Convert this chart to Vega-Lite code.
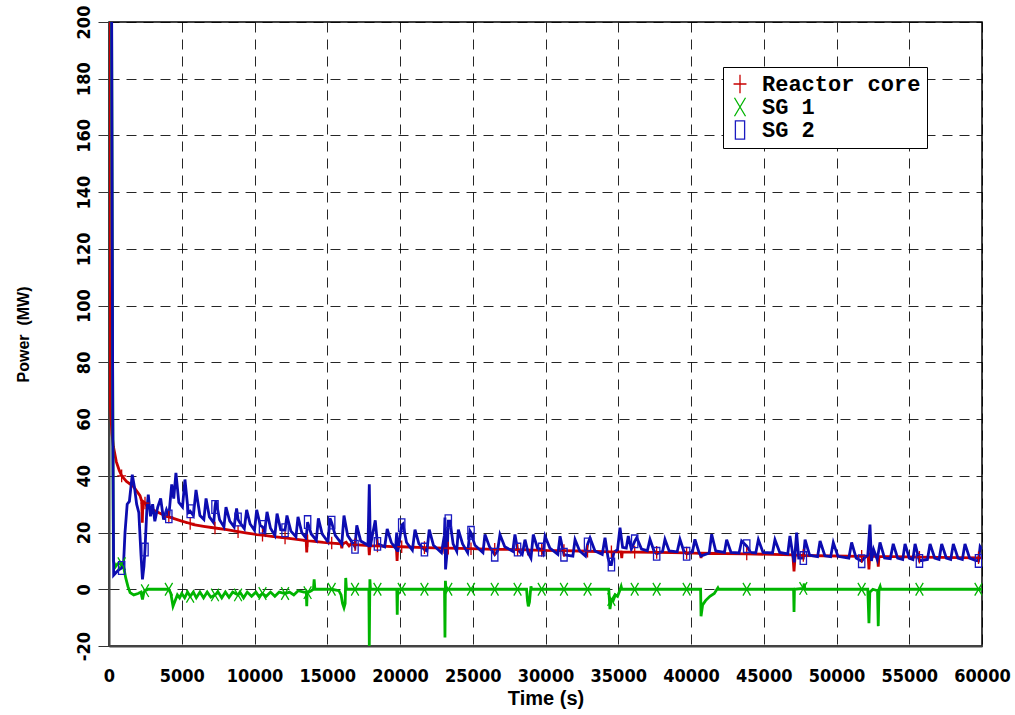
{
  "$schema": "https://vega.github.io/schema/vega-lite/v6.json",
  "width": 873,
  "height": 624,
  "autosize": {"type": "none"},
  "padding": {"left": 109, "top": 22, "right": 33, "bottom": 69},
  "background": "white",
  "config": {
    "view": {"stroke": "black", "strokeWidth": 1.5},
    "axis": {
      "grid": true,
      "gridColor": "black",
      "gridOpacity": 0.85,
      "gridDash": [10, 7],
      "gridWidth": 1,
      "domainColor": "#444",
      "domainWidth": 2,
      "labelFont": "Liberation Sans Narrow, DejaVu Sans Condensed, Arial Narrow, sans-serif",
      "labelFontSize": 18,
      "labelFontWeight": "bold",
      "labelColor": "black",
      "titleFont": "Liberation Sans, Arial, sans-serif",
      "titleFontWeight": "bold",
      "titleColor": "black",
      "titleLimit": 400
    },
    "legend": {
      "orient": "none",
      "legendX": 614,
      "legendY": 45,
      "strokeColor": "black",
      "fillColor": "white",
      "padding": 6,
      "cornerRadius": 0,
      "labelFont": "Liberation Mono, Courier New, monospace",
      "labelFontSize": 22,
      "labelFontWeight": "bold",
      "labelColor": "black",
      "labelOffset": 11,
      "rowPadding": -5,
      "symbolSize": 340,
      "symbolStrokeWidth": 1.3
    }
  },
  "data": {
    "values": [
      {"s":"Reactor core","t":0,"p":250},{"s":"Reactor core","t":30,"p":110},{"s":"Reactor core","t":100,"p":64},{"s":"Reactor core","t":200,"p":55},{"s":"Reactor core","t":300,"p":50.4},{"s":"Reactor core","t":500,"p":45},{"s":"Reactor core","t":700,"p":42},{"s":"Reactor core","t":870,"p":40,"m":1},{"s":"Reactor core","t":1200,"p":38},{"s":"Reactor core","t":1670,"p":36.3},{"s":"Reactor core","t":2130,"p":33},{"s":"Reactor core","t":2250,"p":31},{"s":"Reactor core","t":2290,"p":23.5},{"s":"Reactor core","t":2330,"p":31},{"s":"Reactor core","t":2474,"p":30.4,"m":1},{"s":"Reactor core","t":2600,"p":29.4},{"s":"Reactor core","t":3000,"p":28},{"s":"Reactor core","t":3500,"p":26.8},{"s":"Reactor core","t":3960,"p":25.7},{"s":"Reactor core","t":4110,"p":25.5,"m":1},{"s":"Reactor core","t":5000,"p":24},{"s":"Reactor core","t":5580,"p":23.2,"m":1},{"s":"Reactor core","t":5800,"p":22.8},{"s":"Reactor core","t":6500,"p":22.2},{"s":"Reactor core","t":7285,"p":21.6,"m":1},{"s":"Reactor core","t":8090,"p":21},{"s":"Reactor core","t":8870,"p":20.3,"m":1},{"s":"Reactor core","t":9500,"p":19.8},{"s":"Reactor core","t":10150,"p":19.3},{"s":"Reactor core","t":10550,"p":19.1,"m":1},{"s":"Reactor core","t":11300,"p":18.6},{"s":"Reactor core","t":12100,"p":18.1,"m":1},{"s":"Reactor core","t":12900,"p":17.6},{"s":"Reactor core","t":13550,"p":17.2},{"s":"Reactor core","t":13590,"p":13},{"s":"Reactor core","t":13630,"p":17.2},{"s":"Reactor core","t":13650,"p":17.1,"m":1},{"s":"Reactor core","t":14100,"p":16.9},{"s":"Reactor core","t":14730,"p":16.5},{"s":"Reactor core","t":15306,"p":16.3,"m":1},{"s":"Reactor core","t":15950,"p":16.0},{"s":"Reactor core","t":16000,"p":14.5},{"s":"Reactor core","t":16050,"p":16},{"s":"Reactor core","t":16300,"p":16.6},{"s":"Reactor core","t":16500,"p":15.3},{"s":"Reactor core","t":16700,"p":16.3},{"s":"Reactor core","t":16907,"p":15.7,"m":1},{"s":"Reactor core","t":17850,"p":15.4},{"s":"Reactor core","t":17890,"p":12},{"s":"Reactor core","t":17940,"p":15.4},{"s":"Reactor core","t":18450,"p":15.3,"m":1},{"s":"Reactor core","t":19750,"p":15.0},{"s":"Reactor core","t":19800,"p":10},{"s":"Reactor core","t":19850,"p":15.0},{"s":"Reactor core","t":20117,"p":15.0,"m":1},{"s":"Reactor core","t":21680,"p":14.7,"m":1},{"s":"Reactor core","t":23050,"p":14.5},{"s":"Reactor core","t":23090,"p":12.5},{"s":"Reactor core","t":23130,"p":14.5},{"s":"Reactor core","t":23320,"p":14.5,"m":1},{"s":"Reactor core","t":24880,"p":14.3,"m":1},{"s":"Reactor core","t":26510,"p":14.1,"m":1},{"s":"Reactor core","t":28080,"p":14.0,"m":1},{"s":"Reactor core","t":28800,"p":13.9},{"s":"Reactor core","t":28840,"p":12},{"s":"Reactor core","t":28880,"p":13.9},{"s":"Reactor core","t":29740,"p":13.7,"m":1},{"s":"Reactor core","t":31270,"p":13.6,"m":1},{"s":"Reactor core","t":32890,"p":13.4,"m":1},{"s":"Reactor core","t":34530,"p":13.2,"m":1},{"s":"Reactor core","t":35200,"p":13.15},{"s":"Reactor core","t":35240,"p":11},{"s":"Reactor core","t":35280,"p":13.15},{"s":"Reactor core","t":36130,"p":13.1,"m":1},{"s":"Reactor core","t":37640,"p":13.0,"m":1},{"s":"Reactor core","t":39700,"p":12.8,"m":1},{"s":"Reactor core","t":40650,"p":12.7},{"s":"Reactor core","t":40690,"p":11},{"s":"Reactor core","t":40730,"p":12.7},{"s":"Reactor core","t":43830,"p":12.5,"m":1},{"s":"Reactor core","t":47000,"p":12.1},{"s":"Reactor core","t":47080,"p":6.3},{"s":"Reactor core","t":47160,"p":12.1},{"s":"Reactor core","t":47720,"p":11.9,"m":1},{"s":"Reactor core","t":51730,"p":11.6,"m":1},{"s":"Reactor core","t":52180,"p":11.6},{"s":"Reactor core","t":52230,"p":7},{"s":"Reactor core","t":52280,"p":11.6},{"s":"Reactor core","t":52400,"p":14},{"s":"Reactor core","t":52500,"p":11.6},{"s":"Reactor core","t":52820,"p":11.6},{"s":"Reactor core","t":52870,"p":8},{"s":"Reactor core","t":52920,"p":11.6},{"s":"Reactor core","t":55700,"p":11.3,"m":1},{"s":"Reactor core","t":59760,"p":11.1,"m":1},{"s":"Reactor core","t":60000,"p":11.1},

      {"s":"SG 1","t":0,"p":250},{"s":"SG 1","t":150,"p":250},{"s":"SG 1","t":250,"p":78},{"s":"SG 1","t":300,"p":10},{"s":"SG 1","t":450,"p":8},{"s":"SG 1","t":600,"p":9},{"s":"SG 1","t":870,"p":9,"m":1},{"s":"SG 1","t":1000,"p":8},{"s":"SG 1","t":1150,"p":4},{"s":"SG 1","t":1300,"p":1},{"s":"SG 1","t":1450,"p":-1.2},{"s":"SG 1","t":1700,"p":-2},{"s":"SG 1","t":2000,"p":-1.5},{"s":"SG 1","t":2200,"p":-1},{"s":"SG 1","t":2300,"p":-3.6},{"s":"SG 1","t":2400,"p":-1},{"s":"SG 1","t":2474,"p":-0.5,"m":1},{"s":"SG 1","t":2700,"p":0},{"s":"SG 1","t":3500,"p":0},{"s":"SG 1","t":4110,"p":0,"m":1},{"s":"SG 1","t":4250,"p":-1.5},{"s":"SG 1","t":4400,"p":-6},{"s":"SG 1","t":4550,"p":-4},{"s":"SG 1","t":4700,"p":-2},{"s":"SG 1","t":4850,"p":-3},{"s":"SG 1","t":5000,"p":-1.5},{"s":"SG 1","t":5200,"p":-3},{"s":"SG 1","t":5400,"p":-1},{"s":"SG 1","t":5580,"p":-2.5,"m":1},{"s":"SG 1","t":5800,"p":-1},{"s":"SG 1","t":6000,"p":-3},{"s":"SG 1","t":6250,"p":-1},{"s":"SG 1","t":6500,"p":-3},{"s":"SG 1","t":6750,"p":-1},{"s":"SG 1","t":7000,"p":-2.8},{"s":"SG 1","t":7285,"p":-2,"m":1},{"s":"SG 1","t":7500,"p":-1},{"s":"SG 1","t":7750,"p":-3},{"s":"SG 1","t":8000,"p":-1},{"s":"SG 1","t":8250,"p":-2.8},{"s":"SG 1","t":8500,"p":-1},{"s":"SG 1","t":8870,"p":-2,"m":1},{"s":"SG 1","t":9000,"p":-1},{"s":"SG 1","t":9250,"p":-3},{"s":"SG 1","t":9500,"p":-1},{"s":"SG 1","t":9800,"p":-2.5},{"s":"SG 1","t":10100,"p":-1},{"s":"SG 1","t":10300,"p":-2.5},{"s":"SG 1","t":10550,"p":-1.5,"m":1},{"s":"SG 1","t":10800,"p":-2.5},{"s":"SG 1","t":11100,"p":-1},{"s":"SG 1","t":11400,"p":-2.5},{"s":"SG 1","t":11700,"p":-1},{"s":"SG 1","t":12100,"p":-1.5,"m":1},{"s":"SG 1","t":12400,"p":-1},{"s":"SG 1","t":12700,"p":-2},{"s":"SG 1","t":13000,"p":-0.5},{"s":"SG 1","t":13400,"p":-1},{"s":"SG 1","t":13560,"p":-1},{"s":"SG 1","t":13590,"p":-6},{"s":"SG 1","t":13620,"p":-1},{"s":"SG 1","t":13650,"p":-1.2,"m":1},{"s":"SG 1","t":13900,"p":-0.5},{"s":"SG 1","t":14050,"p":0},{"s":"SG 1","t":14100,"p":3.5},{"s":"SG 1","t":14150,"p":0},{"s":"SG 1","t":15306,"p":0,"m":1},{"s":"SG 1","t":15800,"p":-0.5},{"s":"SG 1","t":15950,"p":-2},{"s":"SG 1","t":16050,"p":-5},{"s":"SG 1","t":16150,"p":-6.5},{"s":"SG 1","t":16230,"p":-5},{"s":"SG 1","t":16270,"p":4},{"s":"SG 1","t":16320,"p":0},{"s":"SG 1","t":16907,"p":0,"m":1},{"s":"SG 1","t":17860,"p":0},{"s":"SG 1","t":17890,"p":-20},{"s":"SG 1","t":17930,"p":3.5},{"s":"SG 1","t":17970,"p":0},{"s":"SG 1","t":18450,"p":0,"m":1},{"s":"SG 1","t":19780,"p":0},{"s":"SG 1","t":19810,"p":-9},{"s":"SG 1","t":19840,"p":0},{"s":"SG 1","t":20117,"p":0,"m":1},{"s":"SG 1","t":21680,"p":0,"m":1},{"s":"SG 1","t":23060,"p":0},{"s":"SG 1","t":23090,"p":-17},{"s":"SG 1","t":23120,"p":3},{"s":"SG 1","t":23160,"p":0},{"s":"SG 1","t":23320,"p":0,"m":1},{"s":"SG 1","t":24880,"p":0,"m":1},{"s":"SG 1","t":26510,"p":0,"m":1},{"s":"SG 1","t":28080,"p":0,"m":1},{"s":"SG 1","t":28700,"p":0},{"s":"SG 1","t":28760,"p":-4},{"s":"SG 1","t":28820,"p":-6},{"s":"SG 1","t":28900,"p":-4.5},{"s":"SG 1","t":28960,"p":-1},{"s":"SG 1","t":29000,"p":1},{"s":"SG 1","t":29050,"p":0},{"s":"SG 1","t":29740,"p":0,"m":1},{"s":"SG 1","t":31270,"p":0,"m":1},{"s":"SG 1","t":32890,"p":0,"m":1},{"s":"SG 1","t":34350,"p":0},{"s":"SG 1","t":34430,"p":-7},{"s":"SG 1","t":34530,"p":-3.6,"m":1},{"s":"SG 1","t":34650,"p":-4},{"s":"SG 1","t":34800,"p":-2},{"s":"SG 1","t":34950,"p":-2.5},{"s":"SG 1","t":35100,"p":-0.5},{"s":"SG 1","t":35200,"p":1},{"s":"SG 1","t":35250,"p":0},{"s":"SG 1","t":36130,"p":0,"m":1},{"s":"SG 1","t":37640,"p":0,"m":1},{"s":"SG 1","t":39700,"p":0,"m":1},{"s":"SG 1","t":40660,"p":0},{"s":"SG 1","t":40690,"p":-9.5},{"s":"SG 1","t":40800,"p":-5.5},{"s":"SG 1","t":41000,"p":-4},{"s":"SG 1","t":41300,"p":-2.5},{"s":"SG 1","t":41600,"p":-1.5},{"s":"SG 1","t":41850,"p":0.5},{"s":"SG 1","t":41900,"p":0},{"s":"SG 1","t":43830,"p":0,"m":1},{"s":"SG 1","t":47050,"p":0},{"s":"SG 1","t":47080,"p":-8},{"s":"SG 1","t":47110,"p":0},{"s":"SG 1","t":47720,"p":0.3,"m":1},{"s":"SG 1","t":47780,"p":2},{"s":"SG 1","t":47830,"p":0},{"s":"SG 1","t":51730,"p":0,"m":1},{"s":"SG 1","t":52150,"p":0},{"s":"SG 1","t":52230,"p":-12},{"s":"SG 1","t":52290,"p":-1},{"s":"SG 1","t":52500,"p":0},{"s":"SG 1","t":52820,"p":-0.5},{"s":"SG 1","t":52870,"p":-13},{"s":"SG 1","t":52920,"p":0},{"s":"SG 1","t":53000,"p":1},{"s":"SG 1","t":53050,"p":0},{"s":"SG 1","t":55700,"p":0,"m":1},{"s":"SG 1","t":59760,"p":0,"m":1},{"s":"SG 1","t":60000,"p":0},

      {"s":"SG 2","t":0,"p":260},{"s":"SG 2","t":150,"p":260},{"s":"SG 2","t":260,"p":60},{"s":"SG 2","t":320,"p":5},{"s":"SG 2","t":500,"p":6},{"s":"SG 2","t":700,"p":7},{"s":"SG 2","t":870,"p":7.5,"m":1},{"s":"SG 2","t":1000,"p":9},{"s":"SG 2","t":1100,"p":20},{"s":"SG 2","t":1250,"p":30},{"s":"SG 2","t":1400,"p":31},{"s":"SG 2","t":1600,"p":40.4},{"s":"SG 2","t":1750,"p":36},{"s":"SG 2","t":1900,"p":30},{"s":"SG 2","t":2050,"p":27},{"s":"SG 2","t":2200,"p":12},{"s":"SG 2","t":2300,"p":3.5},{"s":"SG 2","t":2400,"p":8},{"s":"SG 2","t":2474,"p":14,"m":1},{"s":"SG 2","t":2600,"p":28},{"s":"SG 2","t":2700,"p":33.4},{"s":"SG 2","t":2850,"p":25.7},{"s":"SG 2","t":3000,"p":30},{"s":"SG 2","t":3150,"p":24},{"s":"SG 2","t":3350,"p":29},{"s":"SG 2","t":3550,"p":32},{"s":"SG 2","t":3750,"p":24.6},{"s":"SG 2","t":3950,"p":28},{"s":"SG 2","t":4110,"p":25.7,"m":1},{"s":"SG 2","t":4310,"p":37},{"s":"SG 2","t":4450,"p":32},{"s":"SG 2","t":4600,"p":41},{"s":"SG 2","t":4800,"p":30.6},{"s":"SG 2","t":5050,"p":29},{"s":"SG 2","t":5220,"p":38.7},{"s":"SG 2","t":5450,"p":27},{"s":"SG 2","t":5580,"p":27.5,"m":1},{"s":"SG 2","t":5800,"p":26},{"s":"SG 2","t":5980,"p":35},{"s":"SG 2","t":6250,"p":26},{"s":"SG 2","t":6520,"p":24.6},{"s":"SG 2","t":6670,"p":32},{"s":"SG 2","t":6900,"p":25.5},{"s":"SG 2","t":7200,"p":23.4},{"s":"SG 2","t":7285,"p":29,"m":1},{"s":"SG 2","t":7350,"p":31.4},{"s":"SG 2","t":7600,"p":24.5},{"s":"SG 2","t":7900,"p":22},{"s":"SG 2","t":8040,"p":29},{"s":"SG 2","t":8300,"p":24},{"s":"SG 2","t":8600,"p":22},{"s":"SG 2","t":8770,"p":28.5},{"s":"SG 2","t":8870,"p":24.6,"m":1},{"s":"SG 2","t":9000,"p":23.5},{"s":"SG 2","t":9300,"p":21.4},{"s":"SG 2","t":9460,"p":28},{"s":"SG 2","t":9700,"p":23},{"s":"SG 2","t":10000,"p":20.8},{"s":"SG 2","t":10150,"p":28},{"s":"SG 2","t":10400,"p":22.5},{"s":"SG 2","t":10550,"p":22,"m":1},{"s":"SG 2","t":10700,"p":20.2},{"s":"SG 2","t":10860,"p":27.3},{"s":"SG 2","t":11100,"p":21.5},{"s":"SG 2","t":11400,"p":19},{"s":"SG 2","t":11550,"p":26.7},{"s":"SG 2","t":11800,"p":21},{"s":"SG 2","t":12100,"p":20.8,"m":1},{"s":"SG 2","t":12230,"p":26},{"s":"SG 2","t":12500,"p":20.5},{"s":"SG 2","t":12850,"p":18.5},{"s":"SG 2","t":12990,"p":25.5},{"s":"SG 2","t":13250,"p":20},{"s":"SG 2","t":13550,"p":18},{"s":"SG 2","t":13650,"p":23.7,"m":1},{"s":"SG 2","t":13900,"p":19.5},{"s":"SG 2","t":14250,"p":17.3},{"s":"SG 2","t":14390,"p":25},{"s":"SG 2","t":14650,"p":19.5},{"s":"SG 2","t":15050,"p":16.7},{"s":"SG 2","t":15190,"p":25},{"s":"SG 2","t":15306,"p":23.5,"m":1},{"s":"SG 2","t":15550,"p":19},{"s":"SG 2","t":16000,"p":16},{"s":"SG 2","t":16150,"p":26},{"s":"SG 2","t":16400,"p":19},{"s":"SG 2","t":16907,"p":15,"m":1},{"s":"SG 2","t":17030,"p":22.5},{"s":"SG 2","t":17300,"p":17},{"s":"SG 2","t":17800,"p":15.5},{"s":"SG 2","t":17890,"p":37},{"s":"SG 2","t":17960,"p":15},{"s":"SG 2","t":18100,"p":19},{"s":"SG 2","t":18300,"p":24.3},{"s":"SG 2","t":18450,"p":16,"m":1},{"s":"SG 2","t":18950,"p":15},{"s":"SG 2","t":19120,"p":21.3},{"s":"SG 2","t":19400,"p":16.5},{"s":"SG 2","t":19700,"p":14.4},{"s":"SG 2","t":19770,"p":20},{"s":"SG 2","t":19850,"p":13.2},{"s":"SG 2","t":20117,"p":22.6,"m":1},{"s":"SG 2","t":20200,"p":23},{"s":"SG 2","t":20450,"p":16.5},{"s":"SG 2","t":20850,"p":13.8},{"s":"SG 2","t":21030,"p":21},{"s":"SG 2","t":21300,"p":16},{"s":"SG 2","t":21680,"p":14,"m":1},{"s":"SG 2","t":21850,"p":13.5},{"s":"SG 2","t":22010,"p":21},{"s":"SG 2","t":22300,"p":15.5},{"s":"SG 2","t":22850,"p":12.9},{"s":"SG 2","t":23050,"p":19},{"s":"SG 2","t":23090,"p":25.3},{"s":"SG 2","t":23130,"p":7},{"s":"SG 2","t":23250,"p":14},{"s":"SG 2","t":23320,"p":24,"m":1},{"s":"SG 2","t":23440,"p":24},{"s":"SG 2","t":23650,"p":16},{"s":"SG 2","t":23900,"p":13.4},{"s":"SG 2","t":24010,"p":21},{"s":"SG 2","t":24300,"p":16},{"s":"SG 2","t":24650,"p":12.9},{"s":"SG 2","t":24810,"p":20.5},{"s":"SG 2","t":24880,"p":19.9,"m":1},{"s":"SG 2","t":25150,"p":15.5},{"s":"SG 2","t":25700,"p":12.9},{"s":"SG 2","t":25840,"p":19.3},{"s":"SG 2","t":26150,"p":15},{"s":"SG 2","t":26510,"p":12.2,"m":1},{"s":"SG 2","t":26700,"p":13.4},{"s":"SG 2","t":26870,"p":19.3},{"s":"SG 2","t":27200,"p":15},{"s":"SG 2","t":27750,"p":13.4},{"s":"SG 2","t":27900,"p":19.3},{"s":"SG 2","t":28080,"p":14,"m":1},{"s":"SG 2","t":28400,"p":12.3},{"s":"SG 2","t":28590,"p":17.5},{"s":"SG 2","t":28800,"p":13},{"s":"SG 2","t":29000,"p":11},{"s":"SG 2","t":29160,"p":19.3},{"s":"SG 2","t":29450,"p":14.5},{"s":"SG 2","t":29740,"p":14,"m":1},{"s":"SG 2","t":29830,"p":12.9},{"s":"SG 2","t":29970,"p":18.7},{"s":"SG 2","t":30300,"p":14.5},{"s":"SG 2","t":30850,"p":12.3},{"s":"SG 2","t":31000,"p":18.7},{"s":"SG 2","t":31270,"p":12.2,"m":1},{"s":"SG 2","t":31880,"p":11.7},{"s":"SG 2","t":32030,"p":17.5},{"s":"SG 2","t":32350,"p":13.5},{"s":"SG 2","t":32750,"p":11.7},{"s":"SG 2","t":32890,"p":15.8,"m":1},{"s":"SG 2","t":33060,"p":18.1},{"s":"SG 2","t":33400,"p":13.5},{"s":"SG 2","t":33900,"p":12.3},{"s":"SG 2","t":34090,"p":18.2},{"s":"SG 2","t":34300,"p":11},{"s":"SG 2","t":34430,"p":8.7},{"s":"SG 2","t":34530,"p":8.7,"m":1},{"s":"SG 2","t":34700,"p":13},{"s":"SG 2","t":34950,"p":14},{"s":"SG 2","t":35120,"p":21.7},{"s":"SG 2","t":35300,"p":14.8},{"s":"SG 2","t":35550,"p":14.5},{"s":"SG 2","t":35690,"p":18.8},{"s":"SG 2","t":35900,"p":14.2},{"s":"SG 2","t":36130,"p":16.9,"m":1},{"s":"SG 2","t":36270,"p":18.2},{"s":"SG 2","t":36600,"p":14.2},{"s":"SG 2","t":37000,"p":13.6},{"s":"SG 2","t":37180,"p":17.6},{"s":"SG 2","t":37450,"p":13.6},{"s":"SG 2","t":37640,"p":12.5,"m":1},{"s":"SG 2","t":38050,"p":13.4},{"s":"SG 2","t":38210,"p":17.6},{"s":"SG 2","t":38500,"p":13.5},{"s":"SG 2","t":39050,"p":13.2},{"s":"SG 2","t":39240,"p":17.6},{"s":"SG 2","t":39500,"p":13.5},{"s":"SG 2","t":39700,"p":12.5,"m":1},{"s":"SG 2","t":40100,"p":13.2},{"s":"SG 2","t":40270,"p":17.6},{"s":"SG 2","t":40550,"p":13},{"s":"SG 2","t":40690,"p":11.7},{"s":"SG 2","t":41250,"p":12.8},{"s":"SG 2","t":41420,"p":19.4},{"s":"SG 2","t":41700,"p":13.5},{"s":"SG 2","t":42300,"p":13},{"s":"SG 2","t":42450,"p":17.5},{"s":"SG 2","t":42750,"p":13},{"s":"SG 2","t":43300,"p":12.8},{"s":"SG 2","t":43480,"p":17},{"s":"SG 2","t":43830,"p":15.2,"m":1},{"s":"SG 2","t":44100,"p":13},{"s":"SG 2","t":44450,"p":12.8},{"s":"SG 2","t":44630,"p":17.5},{"s":"SG 2","t":44950,"p":13},{"s":"SG 2","t":45600,"p":12.8},{"s":"SG 2","t":45770,"p":17.5},{"s":"SG 2","t":46100,"p":13},{"s":"SG 2","t":46650,"p":12.5},{"s":"SG 2","t":46800,"p":18.8},{"s":"SG 2","t":47000,"p":12},{"s":"SG 2","t":47100,"p":9.5},{"s":"SG 2","t":47260,"p":20},{"s":"SG 2","t":47400,"p":11},{"s":"SG 2","t":47720,"p":11,"m":1},{"s":"SG 2","t":47840,"p":17.5},{"s":"SG 2","t":48150,"p":12},{"s":"SG 2","t":48700,"p":11.5},{"s":"SG 2","t":48870,"p":17},{"s":"SG 2","t":49200,"p":11.8},{"s":"SG 2","t":49600,"p":11.5},{"s":"SG 2","t":49780,"p":16.5},{"s":"SG 2","t":50100,"p":11.6},{"s":"SG 2","t":50850,"p":11},{"s":"SG 2","t":51040,"p":16.5},{"s":"SG 2","t":51350,"p":11},{"s":"SG 2","t":51730,"p":9.9,"m":1},{"s":"SG 2","t":51900,"p":11},{"s":"SG 2","t":52150,"p":12},{"s":"SG 2","t":52300,"p":22.8},{"s":"SG 2","t":52400,"p":10},{"s":"SG 2","t":52550,"p":14},{"s":"SG 2","t":52800,"p":10.5},{"s":"SG 2","t":52990,"p":16.5},{"s":"SG 2","t":53300,"p":11},{"s":"SG 2","t":53700,"p":10.8},{"s":"SG 2","t":53900,"p":16},{"s":"SG 2","t":54200,"p":11},{"s":"SG 2","t":54550,"p":10.5},{"s":"SG 2","t":54710,"p":16},{"s":"SG 2","t":55000,"p":11},{"s":"SG 2","t":55250,"p":10.5},{"s":"SG 2","t":55400,"p":16},{"s":"SG 2","t":55700,"p":10,"m":1},{"s":"SG 2","t":56250,"p":10.5},{"s":"SG 2","t":56430,"p":16},{"s":"SG 2","t":56750,"p":11},{"s":"SG 2","t":57050,"p":10.5},{"s":"SG 2","t":57230,"p":16},{"s":"SG 2","t":57550,"p":11},{"s":"SG 2","t":57850,"p":10.5},{"s":"SG 2","t":58030,"p":16},{"s":"SG 2","t":58350,"p":11},{"s":"SG 2","t":58650,"p":10.5},{"s":"SG 2","t":58830,"p":16},{"s":"SG 2","t":59150,"p":11},{"s":"SG 2","t":59550,"p":10.2},{"s":"SG 2","t":59760,"p":10,"m":1},{"s":"SG 2","t":59870,"p":15},{"s":"SG 2","t":60000,"p":14}
    ]
  },
  "encoding": {
    "x": {
      "field": "t",
      "type": "quantitative",
      "scale": {"domain": [0, 60000], "nice": false, "zero": false},
      "axis": {
        "title": "Time (s)",
        "values": [0, 5000, 10000, 15000, 20000, 25000, 30000, 35000, 40000, 45000, 50000, 55000, 60000],
        "labelExpr": "'' + datum.value",
        "ticks": false,
        "labelPadding": 21,
        "labelFlush": false,
        "labelOverlap": false,
        "titleFontSize": 20,
        "titlePadding": 3
      }
    },
    "y": {
      "field": "p",
      "type": "quantitative",
      "scale": {"domain": [-20, 200], "nice": false, "zero": false},
      "axis": {
        "title": "Power \u00a0(MW)",
        "values": [-20, 0, 20, 40, 60, 80, 100, 120, 140, 160, 180, 200],
        "labelExpr": "'' + datum.value",
        "labelAngle": -90,
        "labelAlign": "center",
        "labelBaseline": "bottom",
        "labelFlush": false,
        "labelOverlap": false,
        "tickSize": 11,
        "tickColor": "#333",
        "labelPadding": 5,
        "titleFontSize": 16,
        "titlePadding": 44
      }
    }
  },
  "layer": [
    {
      "transform": [{"filter": "datum.s == 'Reactor core'"}],
      "mark": {"type": "line", "stroke": "#c80000", "strokeWidth": 2.8, "clip": true}
    },
    {
      "transform": [{"filter": "datum.s == 'SG 1'"}],
      "mark": {"type": "line", "stroke": "#00b400", "strokeWidth": 2.8, "clip": true}
    },
    {
      "transform": [{"filter": "datum.s == 'SG 2'"}],
      "mark": {"type": "line", "stroke": "#0c0cb0", "strokeWidth": 2.8, "clip": true}
    },
    {
      "transform": [{"filter": "datum.m == 1"}],
      "mark": {"type": "point", "filled": false, "strokeWidth": 1.3, "size": 160, "opacity": 1, "clip": true},
      "encoding": {
        "color": {
          "field": "s",
          "type": "nominal",
          "scale": {
            "domain": ["Reactor core", "SG 1", "SG 2"],
            "range": ["#c80000", "#00b400", "#1a1ac0"]
          },
          "legend": {"title": null}
        },
        "shape": {
          "field": "s",
          "type": "nominal",
          "scale": {
            "domain": ["Reactor core", "SG 1", "SG 2"],
            "range": ["M0,-1V1M-0.7,0H0.7", "M-0.6,-1L0.6,1M-0.6,1L0.6,-1", "M-0.5,-1H0.5V1H-0.5Z"]
          },
          "legend": {"title": null}
        }
      }
    }
  ]
}
